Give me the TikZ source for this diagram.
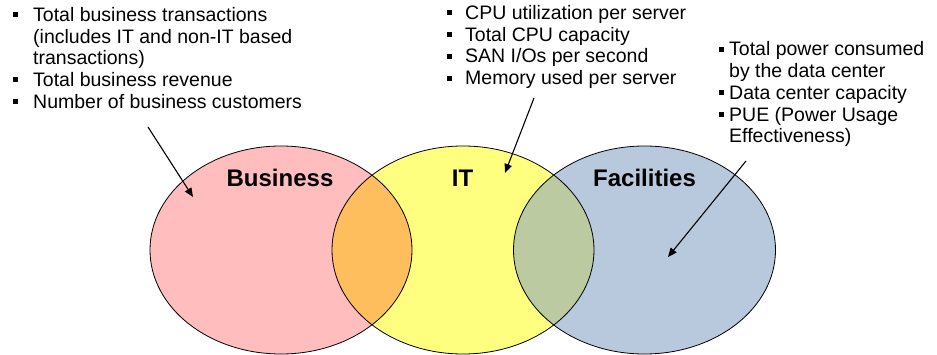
\documentclass[tikz,border=0pt]{standalone}
\usepackage{fontspec}
\setmainfont{Liberation Sans}
\usetikzlibrary{arrows.meta}
\definecolor{bizfill}{HTML}{FFBDBD}
\definecolor{itfill}{HTML}{FFFF7F}
\definecolor{facfill}{HTML}{B9C9DD}
\definecolor{bizit}{HTML}{FFBE5E}
\definecolor{itfac}{HTML}{BBCAA0}
% stacked lines whose baseline is that of the first line
\newcommand{\stackedlines}[1]{\begin{tabular}[t]{@{}l@{}}#1\end{tabular}}
\begin{document}
\begin{tikzpicture}[x=1pt,y=-1pt,
  item/.style={anchor=base west, inner sep=0pt,
    font=\fontsize{19.5}{21.7}\selectfont},
  bul/.style={fill=black, minimum size=5pt, inner sep=0pt},
  setlabel/.style={anchor=base, inner sep=0pt,
    font=\fontsize{24}{28}\selectfont\bfseries},
  rim/.style={draw=black, line width=0.8pt},
  pointer/.style={-{Triangle[length=9pt,width=7.5pt]}, line width=1.1pt}]
\useasboundingbox (0,0) rectangle (937,355);

% the three sets
\def\rx{131pt}\def\ry{104pt}
\fill[bizfill] (281,250) ellipse [x radius=\rx, y radius=\ry];
\fill[itfill]  (463,250) ellipse [x radius=\rx, y radius=\ry];
\fill[facfill] (644.5,250) ellipse [x radius=\rx, y radius=\ry];
% overlaps
\begin{scope}
  \clip (281,250) ellipse [x radius=\rx, y radius=\ry];
  \fill[bizit] (463,250) ellipse [x radius=\rx, y radius=\ry];
\end{scope}
\begin{scope}
  \clip (644.5,250) ellipse [x radius=\rx, y radius=\ry];
  \fill[itfac] (463,250) ellipse [x radius=\rx, y radius=\ry];
\end{scope}
\draw[rim] (281,250) ellipse [x radius=\rx, y radius=\ry];
\draw[rim] (463,250) ellipse [x radius=\rx, y radius=\ry];
\draw[rim] (644.5,250) ellipse [x radius=\rx, y radius=\ry];

\node[setlabel] (lbiz) at (280,187) {Business};
\node[setlabel] (lit)  at (462.5,187) {IT};
\node[setlabel] (lfac) at (644.5,187) {Facilities};

% business metrics
\node[item] (b1) at (33,21.5) {\stackedlines{Total business transactions\\(includes IT and non-IT based\\transactions)}};
\node[item] (b2) at (33,86.5) {Total business revenue};
\node[item] (b3) at (33,108.2) {Number of business customers};
\foreach \n in {b1,b2,b3}
  \node[bul] at ([shift={(-18,-6.5)}]\n.base west) {};

% IT metrics
\node[item] (t1) at (465,19.5) {CPU utilization per server};
\node[item] (t2) at (465,41.2) {Total CPU capacity};
\node[item] (t3) at (465,62.9) {SAN I/Os per second};
\node[item] (t4) at (465,84.6) {Memory used per server};
\foreach \n in {t1,t2,t3,t4}
  \node[bul] at ([shift={(-16,-6.5)}]\n.base west) {};

% facilities metrics
\node[item] (f1) at (729,56) {\stackedlines{Total power consumed\\by the data center}};
\node[item] (f2) at (729,99.4) {Data center capacity};
\node[item] (f3) at (729,121.1) {\stackedlines{PUE (Power Usage\\Effectiveness)}};
\foreach \n in {f1,f2,f3}
  \node[bul] at ([shift={(-8,-6.5)}]\n.base west) {};

% pointers into the sets
\coordinate (pb0) at (148,127);  \coordinate (pb1) at (193,197);
\coordinate (pt0) at (534,98);   \coordinate (pt1) at (505,173);
\coordinate (pf0) at (746,161);  \coordinate (pf1) at (668,257);
\draw[pointer] (pb0) -- (pb1);
\draw[pointer] (pt0) -- (pt1);
\draw[pointer] (pf0) -- (pf1);
\end{tikzpicture}
\end{document}
